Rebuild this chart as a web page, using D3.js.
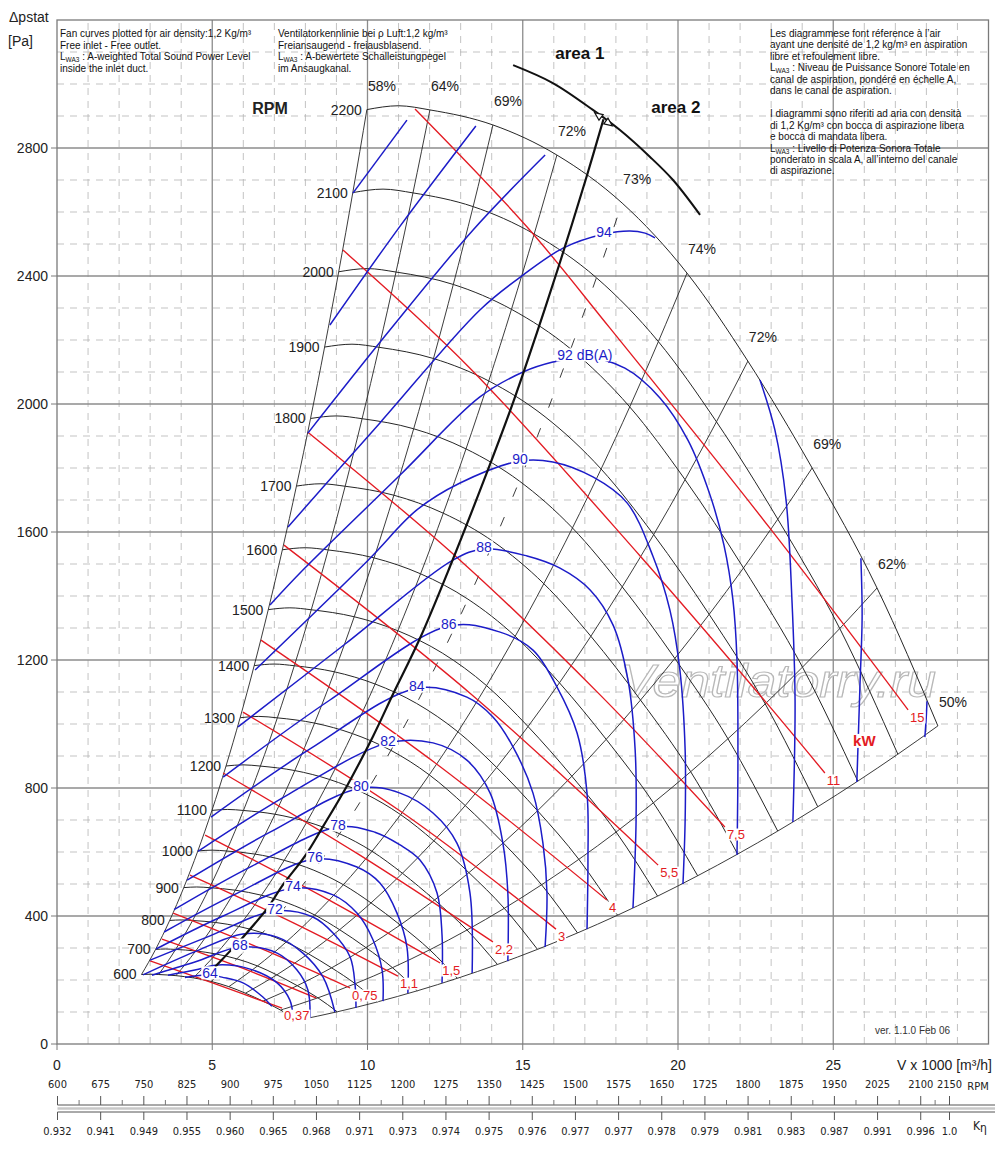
<!DOCTYPE html>
<html>
<head>
<meta charset="utf-8">
<title>Fan performance chart</title>
<script src="https://cdn.jsdelivr.net/npm/d3@7/dist/d3.min.js"></script>
<style>
	body { margin: 0; background: #fff; }
	svg { display: block; font-family: "Liberation Sans", Arial, Helvetica, sans-serif; }
</style>
</head>
<body>
<div id="chart-area"></div>
<script>
// ** Data (V in 1000 m3/h, p in Pa) **

// speeds drawn as fan curves
var rpmList = [600, 700, 800, 900, 1000, 1100, 1200, 1300, 1400, 1500,
	1600, 1700, 1800, 1900, 2000, 2100, 2200];

// fan curve at 2200 RPM, the lower speeds follow by the fan laws
var curve2200 = [[9.98, 2920], [11.0, 2932], [12.01, 2919], [14.04, 2872], [16.10, 2778],
	[18.20, 2628], [20.29, 2409], [22.25, 2134], [24.32, 1800], [26.41, 1425], [28.37, 994]];

// efficiency lines, given by the point where they meet the 2200 RPM curve
var effLabels = ["58%", "64%", "69%", "72%", "73%", "74%", "72%", "69%", "62%", "50%"];
var effAt2200 = [[9.98, 2920], [12.01, 2919], [14.04, 2872], [16.10, 2778], [18.20, 2628],
	[20.29, 2409], [22.25, 2134], [24.32, 1800], [26.41, 1425], [28.37, 994]];
var dashedEff = 4; // the 73% line is drawn broken

// sound power level lines LWA3, dB(A)
var soundLevels = [64, 66, 68, 70, 72, 74, 76, 78, 80, 82, 84, 86, 88, 90, 92, 94, 96, 98, 100];
var soundLabels = ["64", "", "68", "", "72", "74", "76", "78", "80", "82", "84", "86",
	"88", "90", "92 dB(A)", "94", "", "", ""];
var soundLabelAt = [1, -1, 2, -1, 2, 2, 2, 2, 2, 2, 2, 2, 3, 4, 6, 5, -1, -1, -1];
var soundCurves = [
	[[4.12, 208], [4.93, 216], [5.31, 209], [5.99, 191], [6.63, 147], [6.92, 118]],
	[[3.57, 215], [4.44, 231], [5.19, 247], [6.22, 234], [7.09, 191], [7.50, 137], [7.60, 86]],
	[[3.06, 215], [4.44, 256], [5.89, 303], [7.09, 284], [7.73, 231], [8.08, 169], [8.15, 81]],
	[[2.77, 216], [4.41, 287], [5.99, 344], [7.09, 334], [7.92, 284], [8.57, 209], [8.95, 100]],
	[[3.00, 262], [4.83, 334], [7.02, 416], [8.24, 397], [8.89, 347], [9.44, 272], [9.60, 184], [9.63, 113]],
	[[3.19, 297], [5.28, 397], [7.60, 487], [8.89, 466], [9.66, 409], [10.18, 325], [10.47, 231], [10.50, 134]],
	[[3.45, 350], [5.76, 469], [8.31, 578], [9.66, 553], [10.40, 503], [10.95, 409], [11.27, 303], [11.30, 159]],
	[[3.77, 420], [6.28, 556], [9.05, 678], [10.24, 662], [11.05, 622], [11.69, 575], [12.24, 472], [12.40, 341], [12.40, 191]],
	[[4.19, 512], [6.86, 662], [9.79, 800], [11.05, 784], [12.11, 722], [12.88, 628], [13.30, 472], [13.37, 222]],
	[[4.54, 602], [7.47, 781], [10.66, 941], [12.11, 941], [13.20, 887], [13.95, 784], [14.36, 628], [14.52, 472], [14.52, 259]],
	[[4.96, 709], [8.15, 922], [11.59, 1112], [13.20, 1084], [14.04, 1022], [14.69, 928], [15.33, 784], [15.65, 628], [15.78, 472], [15.72, 303]],
	[[5.35, 834], [8.79, 1075], [12.62, 1306], [14.27, 1287], [15.33, 1231], [16.10, 1116], [16.75, 972], [17.07, 784], [17.10, 575], [17.07, 359]],
	[[5.83, 991], [9.28, 1250], [12.75, 1512], [13.75, 1547], [15.14, 1525], [16.20, 1487], [17.17, 1419], [17.91, 1309], [18.39, 1137], [18.62, 919], [18.65, 700], [18.55, 425]],
	[[6.38, 1169], [10.02, 1512], [11.59, 1669], [12.98, 1753], [14.91, 1822], [15.97, 1819], [17.26, 1772], [18.36, 1691], [19.19, 1525], [19.74, 1356], [20.06, 1169], [20.23, 919], [20.23, 700], [20.16, 500]],
	[[6.86, 1372], [7.92, 1481], [11.05, 1778], [13.62, 2022], [15.01, 2100], [15.97, 2131], [17.00, 2147], [18.29, 2112], [19.42, 2019], [20.32, 1887], [21.03, 1716], [21.48, 1559], [21.77, 1387], [21.90, 1200], [21.93, 887], [21.90, 591]],
	[[7.44, 1616], [10.40, 1941], [13.62, 2294], [15.01, 2403], [16.30, 2487], [17.62, 2531], [18.45, 2541], [18.94, 2534], [19.26, 2519]],
	[[8.08, 1909], [10.72, 2231], [13.40, 2544], [15.72, 2778]],
	[[8.79, 2247], [11.05, 2556], [13.49, 2869]],
	[[9.53, 2659], [11.27, 2887]]
];
// parts of the highest levels that come back in below the 2200 RPM curve
var soundReturnLevels = [94, 96, 98];
var soundReturnCurves = [
	[[22.64, 2075], [23.12, 1919], [23.48, 1700], [23.67, 1387], [23.77, 1075], [23.70, 694]],
	[[25.89, 1518], [25.93, 1337], [25.86, 1119], [25.76, 819]],
	[[28.02, 1071], [27.99, 1012], [27.95, 959]]
];

// shaft power lines, kW
var powerLabels = ["0,37", "", "0,75", "1,1", "1,5", "2,2", "3", "4", "5,5", "7,5", "11", "15"];
var powerCurves = [
	[[3.00, 260], [5.12, 187], [7.25, 112]],
	[[3.38, 328], [5.89, 240], [8.34, 144]],
	[[3.74, 409], [6.60, 297], [9.44, 175]],
	[[4.28, 528], [7.63, 378], [10.98, 212]],
	[[4.77, 653], [8.53, 462], [12.34, 253]],
	[[5.35, 847], [9.69, 594], [14.04, 319]],
	[[5.99, 1037], [11.05, 728], [16.07, 359]],
	[[6.57, 1262], [12.14, 881], [17.71, 450]],
	[[7.31, 1559], [13.33, 1094], [19.36, 559]],
	[[8.08, 1912], [12.98, 1512], [17.49, 1091], [21.51, 678]],
	[[9.21, 2481], [13.30, 2112], [18.78, 1525], [22.58, 1097], [24.73, 847]],
	[[11.53, 2922], [15.14, 2553], [17.81, 2237], [22.96, 1612], [27.41, 1044]]
];

// line between area 1 and area 2, and the limit it runs up to
var areaLine = [[5.09, 241], [5.99, 334], [6.76, 422], [7.28, 498], [7.99, 588], [8.57, 680],
	[9.37, 812], [10.18, 962], [10.82, 1093], [11.69, 1268], [12.66, 1493], [13.85, 1787],
	[14.69, 2005], [15.46, 2224], [16.20, 2443], [17.07, 2715], [17.60, 2890]];
var areaLimit = [[14.69, 3059], [15.97, 3003], [17.26, 2919], [18.13, 2856], [19.10, 2772],
	[19.84, 2700], [20.71, 2591]];

// axis ticks
var xTicks = [0, 5, 10, 15, 20, 25];
var yTicks = [0, 400, 800, 1200, 1600, 2000, 2400, 2800];

// speed and efficiency correction scales under the chart
var rpmTicks = [600, 675, 750, 825, 900, 975, 1050, 1125, 1200, 1275, 1350, 1425, 1500,
	1575, 1650, 1725, 1800, 1875, 1950, 2025, 2100, 2150];
var kEta = ["0.932", "0.941", "0.949", "0.955", "0.960", "0.965", "0.968", "0.971", "0.973",
	"0.974", "0.975", "0.976", "0.977", "0.977", "0.978", "0.979", "0.981", "0.983", "0.987",
	"0.991", "0.996", "1.0"];

// notes
var notesEn = ["Fan curves plotted for air density:1,2 Kg/m³", "Free inlet - Free outlet.",
	"L{WA3} : A-weighted Total Sound Power Level", "inside the inlet duct."];
var notesDe = ["Ventilatorkennlinie bei ρ Luft:1,2 kg/m³", "Freiansaugend - freiausblasend.",
	"L{WA3} : A-bewertete Schalleistungpegel", "im Ansaugkanal."];
var notesFrIt = ["Les diagrammese font réference à l’air",
	"ayant une densité de 1,2 kg/m³ en aspiration", "libre et refoulement libre.",
	"L{WA3} : Niveau de Puissance Sonore Totale en", "canal de aspiration, pondéré en échelle A,",
	"dans le canal de aspiration.", "",
	"I diagrammi sono riferiti ad aria con densità", "di 1,2 Kg/m³ con bocca di aspirazione libera",
	"e bocca di mandata libera.", "L{WA3} : Livello di Potenza Sonora Totale",
	"ponderato in scala A, all’interno del canale", "di aspirazione."];

// ** Colours **
var black = "#262626";
var blue = "#1c1cc8";
var red = "#e31b23";

var svg = d3.select("#chart-area")
	.append("svg")
	.attr("width", 1000)
	.attr("height", 1160);

// Scales
var x = d3.scaleLinear().domain([0, 30]).range([57, 988.5]);
var y = d3.scaleLinear().domain([0, 3200]).range([1044, 20]);
var rpmScale = d3.scaleLinear().domain([600, 2150]).range([57.5, 949.5]);

// fan laws: V ~ n, p ~ n^2
function atSpeed(point, n){
	var r = n / 2200;
	return [point[0] * r, point[1] * r * r];
}

var smoothLine = d3.line()
	.x(function(d){ return x(d[0]); })
	.y(function(d){ return y(d[1]); })
	.curve(d3.curveMonotoneX);
var freeLine = d3.line()
	.x(function(d){ return x(d[0]); })
	.y(function(d){ return y(d[1]); })
	.curve(d3.curveCatmullRom.alpha(0.5));

// ** Grid **
var grid = svg.append("g");
d3.range(1, 30).forEach(function(v){
	var major = v % 5 === 0;
	grid.append("line")
		.attr("x1", x(v)).attr("x2", x(v))
		.attr("y1", y(0)).attr("y2", y(3200))
		.attr("stroke", major ? "#8c8c8c" : "#b4b4b4")
		.attr("stroke-width", major ? 1.3 : 0.8)
		.attr("stroke-dasharray", major ? null : "7,6");
});
d3.range(100, 3200, 100).forEach(function(p){
	var major = p % 400 === 0;
	grid.append("line")
		.attr("x1", x(0)).attr("x2", x(30))
		.attr("y1", y(p)).attr("y2", y(p))
		.attr("stroke", major ? "#8c8c8c" : "#b4b4b4")
		.attr("stroke-width", major ? 1.3 : 0.8)
		.attr("stroke-dasharray", major ? null : "7,6");
});
grid.append("rect")
	.attr("x", x(0)).attr("y", y(3200))
	.attr("width", x(30) - x(0)).attr("height", y(0) - y(3200))
	.attr("fill", "none")
	.attr("stroke", "#7a7a7a")
	.attr("stroke-width", 1.3);

// Axes
var axes = svg.append("g").attr("font-size", 14).attr("fill", "#222");
yTicks.forEach(function(p){
	axes.append("line")
		.attr("x1", x(0) - 6).attr("x2", x(0))
		.attr("y1", y(p)).attr("y2", y(p))
		.attr("stroke", "#7a7a7a");
	axes.append("text")
		.attr("x", x(0) - 9).attr("y", y(p) + 5)
		.attr("text-anchor", "end")
		.text(p);
});
xTicks.forEach(function(v){
	axes.append("line")
		.attr("x1", x(v)).attr("x2", x(v))
		.attr("y1", y(0)).attr("y2", y(0) + 6)
		.attr("stroke", "#7a7a7a");
	axes.append("text")
		.attr("x", x(v)).attr("y", y(0) + 26)
		.attr("text-anchor", "middle")
		.text(v);
});
axes.append("text")
	.attr("x", 992).attr("y", y(0) + 26)
	.attr("text-anchor", "end")
	.text("V x 1000 [m³/h]");
axes.append("text").attr("x", 9).attr("y", 22).text("Δpstat");
axes.append("text").attr("x", 8).attr("y", 46).text("[Pa]");

// Notes
function drawNotes(lines, x0, y0, step){
	var g = svg.append("g").attr("font-size", 10).attr("fill", "#111");
	lines.forEach(function(line, i){
		var t = g.append("text").attr("x", x0).attr("y", y0 + i * step);
		var m = line.match(/^L\{(.+?)\}(.*)$/);
		if (m){
			t.append("tspan").text("L");
			t.append("tspan").attr("font-size", 6.5).attr("dy", 2).text(m[1]);
			t.append("tspan").attr("dy", -2).text(m[2]);
		} else {
			t.text(line);
		}
	});
}
drawNotes(notesEn, 60, 37, 11.7);
drawNotes(notesDe, 278, 37, 11.7);
drawNotes(notesFrIt, 770, 37, 11.45);

svg.append("text")
	.attr("x", 875).attr("y", 1034)
	.attr("font-size", 10)
	.attr("fill", "#333")
	.text("ver. 1.1.0 Feb 06");

// Watermark
svg.append("text")
	.attr("x", 620).attr("y", 697)
	.attr("textLength", 316)
	.attr("lengthAdjust", "spacingAndGlyphs")
	.attr("font-size", 46)
	.attr("font-style", "italic")
	.attr("fill", "#fff")
	.attr("stroke", "#b8b8b8")
	.attr("stroke-width", 1.2)
	.text("Ventilatorry.ru");

// ** Fan curves and efficiency lines **
var lines = svg.append("g").attr("fill", "none");

effAt2200.forEach(function(e, i){
	var pts = rpmList.map(function(n){ return atSpeed(e, n); });
	lines.append("path")
		.attr("d", smoothLine(pts))
		.attr("stroke", black)
		.attr("stroke-width", 0.9)
		.attr("stroke-dasharray", i === dashedEff ? "10,22" : null);
});

rpmList.forEach(function(n){
	var pts = curve2200.map(function(d){ return atSpeed(d, n); });
	lines.append("path")
		.attr("d", smoothLine(pts))
		.attr("stroke", black)
		.attr("stroke-width", 1);
});

// Power lines
powerCurves.forEach(function(c){
	lines.append("path")
		.attr("d", freeLine(c))
		.attr("stroke", red)
		.attr("stroke-width", 1.35);
});

// Sound lines
soundCurves.forEach(function(c){
	lines.append("path")
		.attr("d", freeLine(c))
		.attr("stroke", blue)
		.attr("stroke-width", 1.5);
});
soundReturnCurves.forEach(function(c){
	lines.append("path")
		.attr("d", freeLine(c))
		.attr("stroke", blue)
		.attr("stroke-width", 1.5);
});

// Area line and limit
lines.append("path")
	.attr("d", freeLine(areaLine))
	.attr("stroke", "#111")
	.attr("stroke-width", 2.2);
lines.append("path")
	.attr("d", freeLine(areaLimit))
	.attr("stroke", "#111")
	.attr("stroke-width", 2);

var cross = areaLine[areaLine.length - 1];
var b0 = areaLimit[2], b1 = areaLimit[3];
var ang = Math.atan2(y(b1[1]) - y(b0[1]), x(b1[0]) - x(b0[0])) * 180 / Math.PI;
[ang, ang + 180].forEach(function(a){
	svg.append("path")
		.attr("d", "M11,0 L3,-3.5 L3,3.5 Z")
		.attr("transform", "translate(" + x(cross[0]) + "," + y(cross[1]) + ") rotate(" + a + ")")
		.attr("fill", "#fff")
		.attr("stroke", "#111")
		.attr("stroke-width", 1.2);
});

// ** Labels **
var labels = svg.append("g");

// text with a white box behind it, which breaks the lines under it
function boxedLabel(px, py, txt, color, size, anchor, weight){
	var t = labels.append("text")
		.attr("x", px).attr("y", py)
		.attr("text-anchor", anchor || "start")
		.attr("font-size", size)
		.attr("font-weight", weight || "normal")
		.attr("fill", color)
		.text(txt);
	var b = t.node().getBBox();
	labels.insert("rect", function(){ return t.node(); })
		.attr("x", b.x - 1).attr("y", b.y + 1.5)
		.attr("width", b.width + 2).attr("height", b.height - 3)
		.attr("fill", "#fff");
	return t;
}

effAt2200.forEach(function(e, i){
	labels.append("text")
		.attr("x", x(e[0]) + 1).attr("y", y(e[1]) - 19)
		.attr("font-size", 14)
		.attr("fill", "#222")
		.text(effLabels[i]);
});

rpmList.forEach(function(n){
	var s = atSpeed(curve2200[0], n);
	labels.append("text")
		.attr("x", x(s[0]) - 5).attr("y", y(s[1]) + 5)
		.attr("text-anchor", "end")
		.attr("font-size", 14)
		.attr("fill", "#222")
		.text(n);
});
labels.append("text")
	.attr("x", 270).attr("y", 114)
	.attr("text-anchor", "middle")
	.attr("font-size", 16)
	.attr("font-weight", "bold")
	.attr("fill", "#222")
	.text("RPM");

powerCurves.forEach(function(c, i){
	if (!powerLabels[i]) return;
	var end = c[c.length - 1];
	boxedLabel(x(end[0]) + 2, y(end[1]) + 12, powerLabels[i], red, 13);
});
boxedLabel(x(26.0), y(930), "kW", red, 15, "middle", "bold");

soundCurves.forEach(function(c, i){
	if (soundLabelAt[i] < 0) return;
	var d = c[soundLabelAt[i]];
	boxedLabel(x(d[0]), y(d[1]) + 3, soundLabels[i], blue, 14, "middle");
});

labels.append("text")
	.attr("x", x(16.84)).attr("y", y(3078))
	.attr("text-anchor", "middle")
	.attr("font-size", 17).attr("font-weight", "bold").attr("fill", "#111")
	.text("area 1");
labels.append("text")
	.attr("x", x(19.93)).attr("y", y(2910))
	.attr("text-anchor", "middle")
	.attr("font-size", 17).attr("font-weight", "bold").attr("fill", "#111")
	.text("area 2");

// ** RPM and K-eta scales **
var scales = svg.append("g")
	.attr("font-family", "'Liberation Sans Narrow', 'Arial Narrow', 'DejaVu Sans Condensed', sans-serif")
	.attr("font-size", 11)
	.attr("fill", "#222");
scales.append("line")
	.attr("x1", 57.5).attr("x2", 995).attr("y1", 1105).attr("y2", 1105)
	.attr("stroke", "#555");
scales.append("line")
	.attr("x1", 57.5).attr("x2", 995).attr("y1", 1108.5).attr("y2", 1108.5)
	.attr("stroke", "#c8c8c8").attr("stroke-width", 2.5);
scales.append("line")
	.attr("x1", 57.5).attr("x2", 995).attr("y1", 1112).attr("y2", 1112)
	.attr("stroke", "#555");
rpmTicks.forEach(function(r, i){
	var px = rpmScale(r);
	scales.append("line")
		.attr("x1", px).attr("x2", px).attr("y1", 1096).attr("y2", 1105)
		.attr("stroke", "#555");
	scales.append("text")
		.attr("x", px).attr("y", 1088)
		.attr("text-anchor", "middle")
		.text(r);
	scales.append("line")
		.attr("x1", px).attr("x2", px).attr("y1", 1112).attr("y2", 1120)
		.attr("stroke", "#555");
	scales.append("text")
		.attr("x", px).attr("y", 1135)
		.attr("text-anchor", "middle")
		.text(kEta[i]);
	if (i < rpmTicks.length - 1){
		var mx = rpmScale((r + rpmTicks[i + 1]) / 2);
		scales.append("line")
			.attr("x1", mx).attr("x2", mx).attr("y1", 1100).attr("y2", 1105)
			.attr("stroke", "#777");
	}
});
scales.append("text")
	.attr("x", 978).attr("y", 1090)
	.attr("text-anchor", "middle")
	.text("RPM");
var keta = scales.append("text")
	.attr("x", 973).attr("y", 1130)
	.attr("font-size", 12);
keta.append("tspan").text("K");
keta.append("tspan").attr("dy", 2).text("η");
</script>
</body>
</html>
